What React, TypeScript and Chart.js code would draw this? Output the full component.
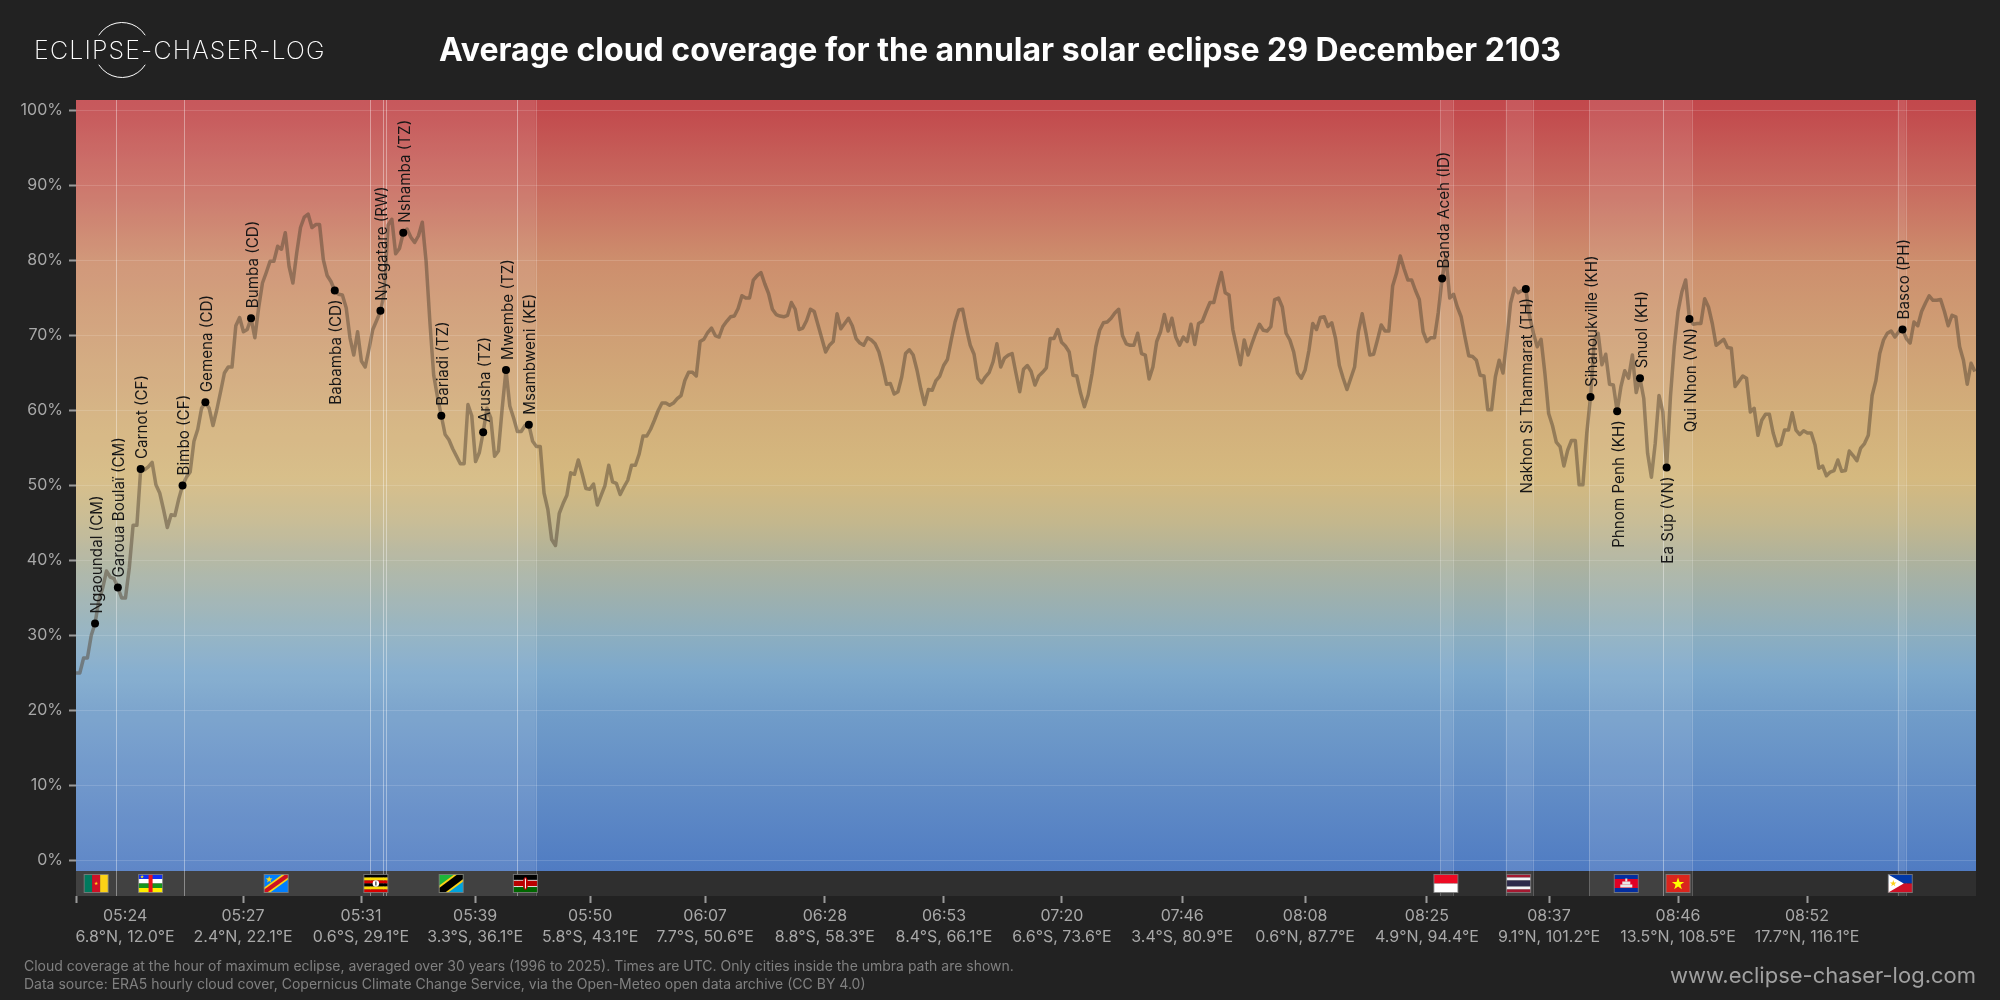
import { useEffect, useRef } from 'react';
import { Chart, registerables } from 'chart.js';

Chart.register(...registerables);

// cloud cover in %, one sample every step along the umbra path
const cloudCover = [
  25, 25, 27, 27, 30, 31.6, 34.7, 36.3, 38.6, 37.8,
  37.6, 36.4, 35, 35, 39, 44.7, 44.7, 52.2, 52.1, 52.5,
  53.1, 50.1, 49, 46.8, 44.4, 46.1, 46, 48.2, 50, 51.1,
  51.8, 55.9, 57.5, 60.3, 61.1, 60.3, 58, 60.1, 62.5, 65,
  65.8, 65.8, 71.3, 72.4, 70.5, 70.8, 72.3, 69.7, 73.7, 77,
  78.4, 79.9, 79.9, 81.9, 81.5, 83.7, 79.2, 77, 81, 84.4,
  85.8, 86.2, 84.4, 84.8, 84.8, 80.1, 78, 77.2, 76, 75.5,
  75.4, 73.7, 69.7, 67.4, 70.5, 66.6, 65.8, 68.2, 70.8, 72,
  73.2, 75.6, 84.7, 85.5, 80.9, 81.6, 83.7, 84.2, 83.1, 82.4,
  83.3, 85.1, 79.9, 71.8, 64.7, 61.8, 59.3, 56.8, 56.1, 54.9,
  53.9, 52.9, 52.9, 60.8, 59.3, 53.2, 54.4, 57.1, 60.3, 59,
  53.9, 54.6, 60.3, 65.4, 60.6, 59, 57.2, 57.2, 58, 58.1,
  55.9, 55.2, 55.2, 49, 46.8, 42.8, 42, 46.3, 47.6, 48.7,
  51.7, 51.5, 53.4, 51.6, 49.6, 49.5, 50.2, 47.4, 48.7, 50,
  52.7, 50.5, 50.3, 48.8, 49.8, 50.7, 52.7, 52.7, 54.2, 56.6,
  56.6, 57.5, 58.7, 60, 61, 61, 60.7, 61, 61.6, 62,
  64, 65.1, 65.1, 64.6, 69.2, 69.5, 70.4, 71, 70, 69.8,
  71.2, 71.9, 72.5, 72.6, 73.6, 75.3, 75, 75, 77.4, 78,
  78.4, 76.9, 75.6, 73.5, 72.8, 72.6, 72.5, 72.7, 74.4, 73.5,
  70.8, 71, 72, 73.5, 73.2, 71.4, 69.6, 67.8, 68.7, 69.2,
  72.9, 70.9, 71.6, 72.3, 71.3, 69.6, 69, 68.7, 69.7, 69.4,
  68.9, 67.8, 65.8, 63.5, 63.6, 62.2, 62.5, 64.5, 67.6, 68.1,
  67.4, 65.4, 62.9, 60.8, 62.8, 62.7, 64, 64.6, 66, 66.8,
  69.4, 71.8, 73.4, 73.5, 70.9, 68.7, 67.5, 64.3, 63.7, 64.5,
  65.1, 66.5, 68.9, 65.8, 67, 67.4, 67.6, 65, 62.5, 65.5,
  66, 65.2, 63.4, 64.6, 65.1, 65.7, 69.6, 69.6, 70.8, 69.1,
  68.6, 67.8, 64.7, 64.6, 62.3, 60.5, 62.1, 64.9, 68.5, 70.7,
  71.7, 71.8, 72.3, 73, 73.5, 70, 68.9, 68.7, 68.7, 70.3,
  67.6, 67.4, 64.2, 65.8, 69.2, 70.5, 72.8, 70.6, 72.3, 69.8,
  68.7, 69.8, 69.2, 71.5, 68.8, 71.6, 71.9, 73.2, 74.4, 74.4,
  76.5, 78.4, 75.7, 75.4, 70.8, 68.5, 66.1, 69.4, 67.4, 68.9,
  70.3, 71.5, 70.7, 70.6, 71.2, 74.8, 75, 73.8, 70.3, 69.4,
  67.8, 65, 64.3, 65.4, 68, 71.6, 70.8, 72.4, 72.5, 71.2,
  71.7, 69.6, 66, 64.3, 62.8, 64.3, 65.8, 70.5, 72.9, 70.3,
  67.4, 67.5, 69.4, 71.4, 70.6, 70.6, 76.6, 78.3, 80.6, 78.9,
  77.4, 77.4, 76, 74.8, 70.5, 69.2, 69.7, 69.7, 73.1, 77.6,
  80.5, 75, 75.5, 73.8, 72.5, 69.8, 67.3, 67.2, 66.7, 64.7,
  64.6, 60.1, 60.1, 64.5, 66.7, 65, 69.4, 74.3, 76.3, 75.7,
  76, 76.2, 72.5, 70.3, 68.5, 69.5, 65, 59.6, 58, 55.8,
  55.2, 52.6, 54.7, 56, 56, 50.1, 50.1, 56.9, 61.8, 69.4,
  70.3, 66.1, 67.5, 63.5, 63.4, 59.9, 63.2, 65.3, 64.3, 67.4,
  62.4, 64.3, 61.6, 54.3, 51.1, 55.6, 62, 59.8, 52.4, 61.8,
  68.5, 73.2, 75.8, 77.4, 72.2, 71.5, 71.6, 71.6, 74.9, 73.8,
  71.6, 68.7, 69.1, 69.5, 68.4, 68.3, 63.2, 63.9, 64.6, 64.3,
  59.8, 60.3, 56.7, 58.7, 59.5, 59.5, 57, 55.3, 55.5, 57.4,
  57.4, 59.7, 57.4, 56.8, 57.3, 57, 57, 55.4, 52.3, 52.6,
  51.3, 51.8, 52, 53.4, 51.9, 52, 54.6, 54, 53.3, 55,
  55.6, 56.7, 62, 64, 67.6, 69.4, 70.3, 70.6, 69.8, 70.5,
  70.8, 69.6, 69, 71.8, 71.3, 73.2, 74.3, 75.3, 74.7, 74.7,
  74.8, 73.2, 71.3, 72.7, 72.5, 68.5, 66.7, 63.5, 66.3, 65.2,
];

const yTicks = [0, 10, 20, 30, 40, 50, 60, 70, 80, 90, 100];

// the first label sits right of the path start, so it has its own position
const xTicks = [0, 12.9, 43.9, 74.9, 104.9, 135.1, 165.3, 196.8, 228.1, 259.1, 290.7, 323, 355, 387.1, 421, 454.9];
const tickTimes = ['', '05:24', '05:27', '05:31', '05:39', '05:50', '06:07', '06:28', '06:53', '07:20', '07:46', '08:08', '08:25', '08:37', '08:46', '08:52'];
const tickCoords = ['', '6.8°N, 12.0°E', '2.4°N, 22.1°E', '0.6°S, 29.1°E', '3.3°S, 36.1°E', '5.8°S, 43.1°E', '7.7°S, 50.6°E', '8.8°S, 58.3°E', '8.4°S, 66.1°E', '6.6°S, 73.6°E', '3.4°S, 80.9°E', '0.6°N, 87.7°E', '4.9°N, 94.4°E', '9.1°N, 101.2°E', '13.5°N, 108.5°E', '17.7°N, 116.1°E'];

const cityNames = ['Ngaoundal (CM)', 'Garoua Boulaï (CM)', 'Carnot (CF)', 'Bimbo (CF)', 'Gemena (CD)', 'Bumba (CD)', 'Babamba (CD)', 'Nyagatare (RW)', 'Nshamba (TZ)', 'Bariadi (TZ)', 'Arusha (TZ)', 'Mwembe (TZ)', 'Msambweni (KE)', 'Banda Aceh (ID)', 'Nakhon Si Thammarat (TH)', 'Sihanoukville (KH)', 'Phnom Penh (KH)', 'Snuol (KH)', 'Ea Súp (VN)', 'Qui Nhon (VN)', 'Basco (PH)'];
const cityPos = [5, 11, 17, 28, 34, 46, 68, 80, 86, 96, 107, 113, 119, 359, 381, 398, 405, 411, 418, 424, 480];
const cityCover = [31.6, 36.4, 52.2, 50, 61.1, 72.3, 76, 73.3, 83.7, 59.3, 57.1, 65.4, 58.1, 77.6, 76.2, 61.8, 59.9, 64.3, 52.4, 72.2, 70.8];
const cityBelow = ['Babamba (CD)', 'Nakhon Si Thammarat (TH)', 'Phnom Penh (KH)', 'Ea Súp (VN)', 'Qui Nhon (VN)'];

const spanFrom = [0, 10.6, 28.5, 77.2, 80.8, 81.5, 115.8, 358.5, 375.7, 397.7, 417.1, 478.7];
const spanTo = [10.6, 28.5, 77.2, 80.8, 81.5, 115.8, 120.8, 361.8, 382.8, 417.1, 424.6, 480.8];

const flagCodes = ['CM', 'CF', 'CD', 'UG', 'TZ', 'KE', 'ID', 'TH', 'KH', 'VN', 'PH'];
const flagPos = [5.3, 19.6, 52.6, 78.8, 98.6, 118.1, 360, 379.1, 407.4, 421, 479.4];

const colorStops: [number, string][] = [
  [101.4, '#c2484c'],
  [100, '#c24a4d'],
  [90, '#c86a5f'],
  [80, '#cd8e6d'],
  [70, '#cf9f75'],
  [60, '#d2ae7a'],
  [51, '#d5b97f'],
  [45, '#c3b78d'],
  [40, '#aeb29d'],
  [35, '#9db0ae'],
  [30, '#8caec0'],
  [25, '#7ca8cc'],
  [20, '#719dc9'],
  [10, '#628dc6'],
  [0, '#527ec3'],
  [-1.4, '#507bc2'],
];

const star = (c: CanvasRenderingContext2D, x: number, y: number, r: number, color: string) => {
  c.fillStyle = color;
  c.beginPath();
  for (let i = 0; i < 10; i++) {
    const a = -Math.PI / 2 + (i * Math.PI) / 5;
    const rad = i % 2 ? r * 0.4 : r;
    c.lineTo(x + Math.cos(a) * rad, y + Math.sin(a) * rad);
  }
  c.closePath();
  c.fill();
};

const stripes = (c: CanvasRenderingContext2D, x: number, y: number, w: number, h: number, rows: [string, number][]) => {
  const total = rows.reduce((s, r) => s + r[1], 0);
  let at = y;
  rows.forEach(([color, part]) => {
    c.fillStyle = color;
    c.fillRect(x, at, w, (h * part) / total);
    at += (h * part) / total;
  });
};

const poly = (c: CanvasRenderingContext2D, color: string, pts: number[][]) => {
  c.fillStyle = color;
  c.beginPath();
  pts.forEach(([px, py]) => c.lineTo(px, py));
  c.closePath();
  c.fill();
};

function drawFlag(c: CanvasRenderingContext2D, code: string, x: number, y: number, w: number, h: number) {
  const r = x + w;
  const b = y + h;
  const cx = x + w / 2;
  const cy = y + h / 2;
  if (code === 'CM') {
    c.fillStyle = '#007a5e';
    c.fillRect(x, y, w / 3, h);
    c.fillStyle = '#ce1126';
    c.fillRect(x + w / 3, y, w / 3, h);
    c.fillStyle = '#fcd116';
    c.fillRect(x + (2 * w) / 3, y, w / 3, h);
    star(c, cx, cy, 2, '#fcd116');
  } else if (code === 'CF') {
    stripes(c, x, y, w, h, [['#1030f0', 1], ['#ffffff', 1], ['#16941e', 1], ['#ffee00', 1]]);
    c.fillStyle = '#e8121a';
    c.fillRect(cx - 2, y, 4, h);
    star(c, x + 3.5, y + 2.3, 2, '#ffee00');
  } else if (code === 'CD') {
    c.fillStyle = '#007fff';
    c.fillRect(x, y, w, h);
    poly(c, '#f7d618', [[x, b], [x, b - 5], [r - 6, y], [r, y], [r, y + 5], [x + 6, b]]);
    poly(c, '#ce1021', [[x, b], [x, b - 3], [r - 3, y], [r, y], [r, y + 3], [x + 3, b]]);
    star(c, x + 5, y + 5, 3.6, '#f7d618');
  } else if (code === 'UG') {
    stripes(c, x, y, w, h, [['#000000', 1], ['#fcdc04', 1], ['#d90000', 1], ['#000000', 1], ['#fcdc04', 1], ['#d90000', 1]]);
    c.fillStyle = '#ffffff';
    c.beginPath();
    c.arc(cx, cy, 3.2, 0, Math.PI * 2);
    c.fill();
    c.fillStyle = '#555555';
    c.fillRect(cx - 0.7, cy - 2, 1.4, 4);
  } else if (code === 'TZ') {
    poly(c, '#1eb53a', [[x, y], [r, y], [x, b]]);
    poly(c, '#00a3dd', [[r, y], [r, b], [x, b]]);
    poly(c, '#fcd116', [[x, b], [x, b - 7], [r - 9, y], [r, y], [r, y + 7], [x + 9, b]]);
    poly(c, '#000000', [[x, b], [x, b - 4.5], [r - 6, y], [r, y], [r, y + 4.5], [x + 6, b]]);
  } else if (code === 'KE') {
    stripes(c, x, y, w, h, [['#000000', 6], ['#ffffff', 1], ['#bb0000', 6], ['#ffffff', 1], ['#006600', 6]]);
    c.fillStyle = '#bb0000';
    c.beginPath();
    c.ellipse(cx, cy, 2.6, 6.5, 0, 0, Math.PI * 2);
    c.fill();
    c.fillStyle = '#ffffff';
    c.fillRect(cx - 0.5, cy - 5, 1, 10);
  } else if (code === 'ID') {
    stripes(c, x, y, w, h, [['#ed0a24', 1], ['#ffffff', 1]]);
  } else if (code === 'TH') {
    stripes(c, x, y, w, h, [['#a51931', 1], ['#f4f5f8', 1], ['#2d2a4a', 2], ['#f4f5f8', 1], ['#a51931', 1]]);
  } else if (code === 'KH') {
    stripes(c, x, y, w, h, [['#032ea1', 1], ['#e00025', 2], ['#032ea1', 1]]);
    c.fillStyle = '#e8e8e8';
    c.fillRect(cx - 6, cy + 1, 12, 3);
    c.fillRect(cx - 4, cy - 2, 8, 3);
    c.fillRect(cx - 1, cy - 5, 2, 3);
  } else if (code === 'VN') {
    c.fillStyle = '#da251d';
    c.fillRect(x, y, w, h);
    star(c, cx, cy + 0.5, 6.5, '#ffff00');
  } else if (code === 'PH') {
    stripes(c, x, y, w, h, [['#0038a8', 1], ['#ce1126', 1]]);
    poly(c, '#ffffff', [[x, y], [x + h * 0.86, cy], [x, b]]);
    star(c, x + 5, cy, 3.4, '#fcd116');
  }
}

const sheetPlugin = {
  id: 'sheet',
  beforeDraw(chart: any) {
    const c: CanvasRenderingContext2D = chart.ctx;
    const { left, right, top, bottom } = chart.chartArea;
    const x = chart.scales.x;
    const y = chart.scales.y;
    const stripTop = y.getPixelForValue(-1.4);

    c.save();
    c.fillStyle = '#222222';
    c.fillRect(0, 0, chart.width, chart.height);

    const grad = c.createLinearGradient(0, top, 0, stripTop);
    colorStops.forEach(([v, color]) => {
      grad.addColorStop((y.getPixelForValue(v) - top) / (stripTop - top), color);
    });
    c.fillStyle = grad;
    c.fillRect(left, top, right - left, stripTop - top);
    c.fillStyle = '#2f2f2f';
    c.fillRect(left, stripTop, right - left, bottom - stripTop);

    spanFrom.forEach((from, i) => {
      const a = x.getPixelForValue(from);
      const b = x.getPixelForValue(spanTo[i]);
      c.fillStyle = 'rgba(255,255,255,0.09)';
      c.fillRect(a, top, b - a, bottom - top);
      c.fillStyle = 'rgba(255,255,255,0.22)';
      if (from > 0) c.fillRect(Math.round(a), top, 1, bottom - top);
      c.fillRect(Math.round(b), top, 1, bottom - top);
    });

    // logo
    c.fillStyle = '#ffffff';
    c.font = '200 25px Inter';
    c.textAlign = 'left';
    c.textBaseline = 'middle';
    c.letterSpacing = '1.15px';
    c.fillText('ECLIPSE-CHASER-LOG', 34, 51);
    c.letterSpacing = '0px';
    c.strokeStyle = '#ffffff';
    c.lineWidth = 1;
    c.beginPath();
    c.arc(122, 50, 27.5, Math.PI * 1.18, Math.PI * 1.82);
    c.stroke();
    c.beginPath();
    c.arc(122, 50, 27.5, Math.PI * 0.18, Math.PI * 0.82);
    c.stroke();

    c.fillStyle = '#ffffff';
    c.font = '700 32px Inter';
    c.textAlign = 'center';
    c.fillText('Average cloud coverage for the annular solar eclipse 29 December 2103', 1000, 51);

    c.fillStyle = '#808080';
    c.font = '14px Inter';
    c.textAlign = 'left';
    c.fillText('Cloud coverage at the hour of maximum eclipse, averaged over 30 years (1996 to 2025). Times are UTC. Only cities inside the umbra path are shown.', 24, 967);
    c.fillText('Data source: ERA5 hourly cloud cover, Copernicus Climate Change Service, via the Open-Meteo open data archive (CC BY 4.0)', 24, 985);

    c.fillStyle = '#a0a0a0';
    c.font = '22px Inter';
    c.textAlign = 'right';
    c.fillText('www.eclipse-chaser-log.com', 1976, 976);
    c.restore();
  },
  afterDatasetsDraw(chart: any) {
    const c: CanvasRenderingContext2D = chart.ctx;
    const x = chart.scales.x;
    const y = chart.scales.y;

    c.save();
    flagCodes.forEach((code, i) => {
      const fx = x.getPixelForValue(flagPos[i]) - 12;
      drawFlag(c, code, fx, 874.5, 24, 18);
      c.strokeStyle = 'rgba(130,130,130,0.8)';
      c.lineWidth = 1;
      c.strokeRect(fx, 874.5, 24, 18);
    });

    c.fillStyle = '#161616';
    c.font = '15.2px Inter';
    c.textBaseline = 'middle';
    cityNames.forEach((name, i) => {
      const below = cityBelow.includes(name);
      c.save();
      c.translate(x.getPixelForValue(cityPos[i]) + 2, y.getPixelForValue(cityCover[i]) + (below ? 9 : -10));
      c.rotate(-Math.PI / 2);
      c.textAlign = below ? 'right' : 'left';
      c.fillText(name, 0, 0);
      c.restore();
    });
    c.restore();
  },
};

function CloudChart() {
  const canvasRef = useRef<HTMLCanvasElement>(null);

  useEffect(() => {
    if (!canvasRef.current) return;

    const chart = new Chart(canvasRef.current, {
      type: 'scatter',
      data: {
        datasets: [
          {
            data: cloudCover.map((v, i) => ({ x: i, y: v })),
            showLine: true,
            borderColor: 'rgba(85,70,52,0.5)',
            borderWidth: 3.5,
            borderJoinStyle: 'round',
            pointRadius: 0,
            tension: 0,
            order: 2,
          },
          {
            data: cityPos.map((p, i) => ({ x: p, y: cityCover[i] })),
            showLine: false,
            pointRadius: 4,
            backgroundColor: '#000000',
            borderWidth: 0,
            order: 1,
          },
        ],
      },
      options: {
        responsive: false,
        animation: false,
        layout: { padding: { top: 100, right: 24, left: 0, bottom: 0 } },
        plugins: { legend: { display: false }, tooltip: { enabled: false } },
        scales: {
          x: {
            type: 'linear',
            bounds: 'data',
            min: 0,
            max: 499.3,
            afterFit: (s: any) => {
              s.height = 104;
            },
            afterBuildTicks: (s: any) => {
              s.ticks = xTicks.map((value) => ({ value }));
            },
            border: { display: false },
            grid: {
              drawOnChartArea: false,
              tickLength: 7,
              tickWidth: 2,
              tickColor: (ctx: any) => (ctx.index === 1 ? 'transparent' : '#9a9a9a'),
            },
            ticks: {
              autoSkip: false,
              maxRotation: 0,
              minRotation: 0,
              padding: 2,
              color: '#a8a8a8',
              font: { family: 'Inter', size: 16, lineHeight: 1.35 },
              callback: (_v: any, i: number) => (tickTimes[i] ? [tickTimes[i], tickCoords[i]] : ''),
            },
          },
          y: {
            type: 'linear',
            bounds: 'data',
            min: -4.73,
            max: 101.4,
            afterFit: (s: any) => {
              s.width = 76;
            },
            afterBuildTicks: (s: any) => {
              s.ticks = yTicks.map((value) => ({ value }));
            },
            border: { display: false },
            grid: {
              color: 'rgba(255,255,255,0.14)',
              lineWidth: 1,
              tickLength: 7,
              tickWidth: 2,
              tickColor: '#9a9a9a',
            },
            ticks: {
              padding: 6,
              color: '#a8a8a8',
              font: { family: 'Inter', size: 16 },
              callback: (v: any) => `${v}%`,
            },
          },
        },
      },
      plugins: [sheetPlugin],
    });

    return () => chart.destroy();
  }, []);

  return <canvas ref={canvasRef} width={2000} height={1000} style={{ display: 'block' }} />;
}

export default function App() {
  return (
    <div style={{ position: 'absolute', left: 0, top: 0, width: 2000, height: 1000, background: '#222222' }}>
      <CloudChart />
    </div>
  );
}
